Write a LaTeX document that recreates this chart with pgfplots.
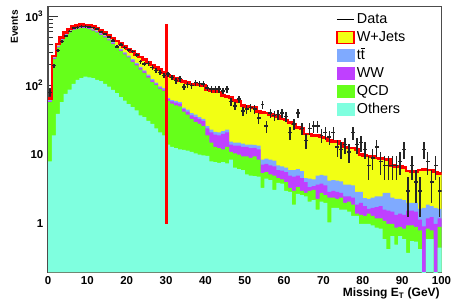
\documentclass[border=0pt]{standalone}
\usepackage{fontspec}
\setmainfont{Liberation Sans}
\usepackage{pgfplots}
\usepackage{pgfplotstable}
\pgfplotsset{compat=1.18}

\definecolor{wjets}{RGB}{242,255,20}
\definecolor{ttbar}{RGB}{127,170,255}
\definecolor{ww}{RGB}{191,64,255}
\definecolor{qcd}{RGB}{102,255,26}
\definecolor{others}{RGB}{127,255,223}

\pgfplotsset{
  boxleg/.style={legend image code/.code={\draw[##1] (0pt,-4.5pt) rectangle (13pt,4.5pt);}},
  lineleg/.style={legend image code/.code={\draw[##1] (0pt,0pt) -- (13pt,0pt);}},
}

% cumulative stack: c1=Others, c2=+QCD, c3=+WW, c4=+ttbar, c5=+W+Jets (total)
\pgfplotstableread{
x c1 c2 c3 c4 c5
0 8 58 60 62 65
1 19 243 250 257 270
2 39 358 369 380 400
3 58 448 461 475 500
4 76 528 544 560 590
5 88 591 609 627 660
6 106 645 664 684 720
7 121 671 691 712 750
8 129 685 706 727 765
9 135 681 701 722 760
10 132 660 680 700 745
11 129 627 646 665 715
12 121 590 608 626 680
13 116 545 561 578 635
14 106 501 516 531 590
15 97 453 467 481 540
16 87 402 414 426 490
17 78 361 372 383 445
18 68 320 330 340 405
19 61 285 294 303 370
20 54 256 264 272 340
21 49 222 233 242 310
22 44 196 206 214 285
23 37 171 180 187 260
24 35 153 161 167 238
25 31 131 138 144 218
26 28 113 119 124 200
27 24 102 107 111 185
28 21 90 94 98 170
29 19 84 88 92 155
30 14 60 64 66 142
31 13 55 59 62 136
32 12.5 52 57 60 128
33 12 50 55 58 120
34 11.8 42 46 48 114
35 11.5 38 42 45 110
36 11 33 37 40 106
37 10.5 30 35 38 105
38 10 28 33 35 103
39 9.8 26 31 33 100
40 9.6 19 24 26 88
41 8 15 21 23 85
42 7.8 13 19.5 21.5 83
43 7.6 12.5 19 21 81
44 7.8 12 20 22 72
45 7.5 13 21 23 70
46 8.5 11 14 15.5 68
47 6.5 10.5 13.5 15 61
48 6.2 10 13.5 15 59
49 6 9.5 13 14.5 52
50 5.2 9.5 13 14 50
51 5 9 12.5 14 49
52 4.9 9.5 12.6 13.9 48
53 4.8 8.5 12 13.5 42
54 3.3 5.4 7.2 8.5 41
55 4.5 5.6 7.4 8.8 40
56 4.3 5.2 7 8.5 38
57 3.1 5.0 6.8 8.2 37
58 3.9 4.6 6 7 36
59 3.8 4.4 5.9 6.8 33
60 3 4.0 5.6 6.5 32
61 2.9 3.3 5 6 29
62 1.9 3.0 4.8 6 28
63 2.7 3.4 5 6.2 25
64 2.6 3.0 4.6 5.8 24
65 2.5 2.8 4.0 4.6 20
66 2.1 3.0 3.4 4.5 20
67 2.2 3.1 3.5 4.4 19
68 1.6 2.3 3.7 5 19
69 2.1 2.8 3.8 5.1 18
70 2.0 2.6 3.6 5 17.5
71 1.05 2.4 2.9 4.2 16
72 1.7 2.4 3.0 4.3 15.5
73 1.7 2.3 2.9 4.2 15.5
74 1.6 2.4 2.8 4.1 14.5
75 1.6 2.0 2.5 3.7 13
76 1.5 2.1 2.5 3.7 12.5
77 1.3 1.9 2.4 3.6 12.5
78 1.3 1.4 1.9 2.9 12
79 1.0 1.35 2.0 2.9 10
80 1.0 1.3 1.8 2.35 9.8
81 1.0 1.4 1.65 2.3 9.6
82 0.95 1.3 1.7 2.4 9.4
83 0.88 1.2 1.75 2.5 9
84 0.85 1.2 1.8 2.5 8.8
85 0.6 1.1 1.6 2.8 8.7
86 0.43 1.0 1.55 2.8 8.5
87 0.66 1.0 1.5 2.4 7
88 0.5 0.88 1.35 2.3 6.8
89 0.66 0.9 1.4 2.3 6.8
90 0.6 0.85 1.35 2.2 6.6
91 0.38 0.95 1.55 2.0 5.8
92 0.56 0.95 1.55 2.0 5.7
93 0.55 0.9 1.5 2.0 5.6
94 0.43 0.8 1.15 1.65 6
95 0.1 0.1 0.92 1.7 6.1
96 0.6 0.85 1.2 1.9 6
97 0.6 0.8 1.25 1.8 6
98 0.1 0.1 1.0 1.7 5.6
99 0.45 0.9 1.2 1.65 5.4
100 0.45 0.9 1.2 1.65 5.4
}\stack

\pgfplotstableread{
x d
0.5 80
1.5 195
2.5 326
3.5 436
4.5 524
5.5 614
6.5 680
7.5 695
8.5 720
9.5 720
10.5 710
11.5 690
12.5 665
13.5 596
14.5 557
15.5 509
16.5 446
17.5 366
18.5 391
19.5 358
20.5 327
21.5 313
22.5 280
23.5 224
24.5 205
25.5 210
26.5 184
27.5 165
28.5 154
29.5 140
30.5 147
31.5 132
32.5 118
33.5 126
34.5 95
35.5 104
36.5 100
37.5 111
38.5 107
39.5 106
40.5 93
41.5 89
42.5 89
43.5 89
44.5 84
45.5 89
46.5 59
47.5 51
48.5 64
49.5 43
50.5 46
51.5 48
52.5 46
53.5 34
54.5 53
55.5 26
56.5 40
57.5 37
58.5 38
59.5 40
60.5 36
61.5 21
62.5 28
63.5 40
64.5 24
65.5 16
66.5 24
67.5 26
68.5 26
69.5 19
70.5 21
71.5 18
72.5 21
73.5 13
74.5 12
75.5 14
76.5 11
77.5 21
78.5 14
79.5 15
80.5 12
81.5 7
82.5 9
83.5 13
84.5 8
85.5 7
86.5 7
87.5 7
88.5 7
89.5 8
90.5 12
91.5 3
92.5 7
93.5 4
94.5 3
95.5 12
96.5 8
97.5 4
98.5 7
99.5 3
}\data

\begin{document}
\begin{tikzpicture}
\path[use as bounding box] (-36pt,-21.75pt) rectangle (311.2pt,204pt);
\begin{axis}[
  scale only axis, width=295.1pt, height=199.1pt,
  at={(0,0)}, anchor=south west,
  xmin=0, xmax=100, ymode=log, ymin=0.2, ymax=1400, log origin=infty,
  xtick={0,10,20,30,40,50,60,70,80,90,100},
  xticklabels={0,10,20,30,40,50,60,70,80,90,100},
  minor x tick num=4,
  ytick={1,10,100,1000},
  yticklabels={1,10,{10\textsuperscript{2}},{10\textsuperscript{3}}},
  minor ytick={0.3,0.4,0.5,0.6,0.7,0.8,0.9,2,3,4,5,6,7,8,9,20,30,40,50,60,70,80,90,200,300,400,500,600,700,800,900},
  tick align=inside, tick pos=left,
  major tick length=7.5pt, minor tick length=3.8pt,
  tick style={black!80, line width=0.7pt},
  axis line style={black!70, line width=0.9pt},
  tick label style={font=\bfseries\fontsize{8.6}{10}\selectfont},
  xlabel={Missing E\textsubscript{T} (GeV)},
  xlabel style={at={(axis description cs:0.996,-0.06)}, anchor=north east, inner sep=0pt, font=\bfseries\fontsize{9}{10}\selectfont},
  ylabel={Events},
  ylabel style={at={(axis description cs:-0.085,0.987)}, anchor=east, inner sep=0pt, font=\bfseries\fontsize{7.6}{9}\selectfont},
  legend style={at={(axis description cs:0.731,0.983)}, anchor=north west, draw=none, fill=none,
    inner sep=0pt, row sep=1.3pt, column sep=0.4pt,
    font=\fontsize{10.8}{12}\selectfont,
    nodes={inner sep=1pt, text height=8pt, text depth=2.2pt}},
  legend cell align=left,
]
\addlegendimage{lineleg, black, line width=1.1pt}
\addlegendentry{Data}
\addlegendimage{boxleg, fill=wjets, draw=red, line width=1.3pt}
\addlegendentry{W+Jets}
\addlegendimage{boxleg, fill=ttbar, draw=ttbar}
\addlegendentry{t\ensuremath{\overline{\mbox{t}}}}
\addlegendimage{boxleg, fill=ww, draw=ww}
\addlegendentry{WW}
\addlegendimage{boxleg, fill=qcd, draw=qcd}
\addlegendentry{QCD}
\addlegendimage{boxleg, fill=others, draw=others}
\addlegendentry{Others}

\addplot[forget plot, const plot, fill=wjets, draw=none] table[x=x, y=c5] {\stack} \closedcycle;
\addplot[forget plot, const plot, fill=ttbar, draw=none] table[x=x, y=c4] {\stack} \closedcycle;
\addplot[forget plot, const plot, fill=ww, draw=none] table[x=x, y=c3] {\stack} \closedcycle;
\addplot[forget plot, const plot, fill=qcd, draw=none] table[x=x, y=c2] {\stack} \closedcycle;
\addplot[forget plot, const plot, fill=others, draw=none] table[x=x, y=c1] {\stack} \closedcycle;
\addplot[forget plot, const plot, draw=red, line width=2pt] table[x=x, y=c5] {\stack};
\addplot[forget plot, red, line width=2.2pt] coordinates {(30,1) (30,780)};
\addplot[forget plot, draw=none, mark=none,
  error bars/.cd, x dir=both, x fixed=0.5, y dir=both, y explicit,
  error mark=none, error bar style={black!85, line width=1.1pt, solid}]
  table[x=x, y=d, y error expr={sqrt(\thisrow{d})}] {\data};
\end{axis}
\end{tikzpicture}
\end{document}
